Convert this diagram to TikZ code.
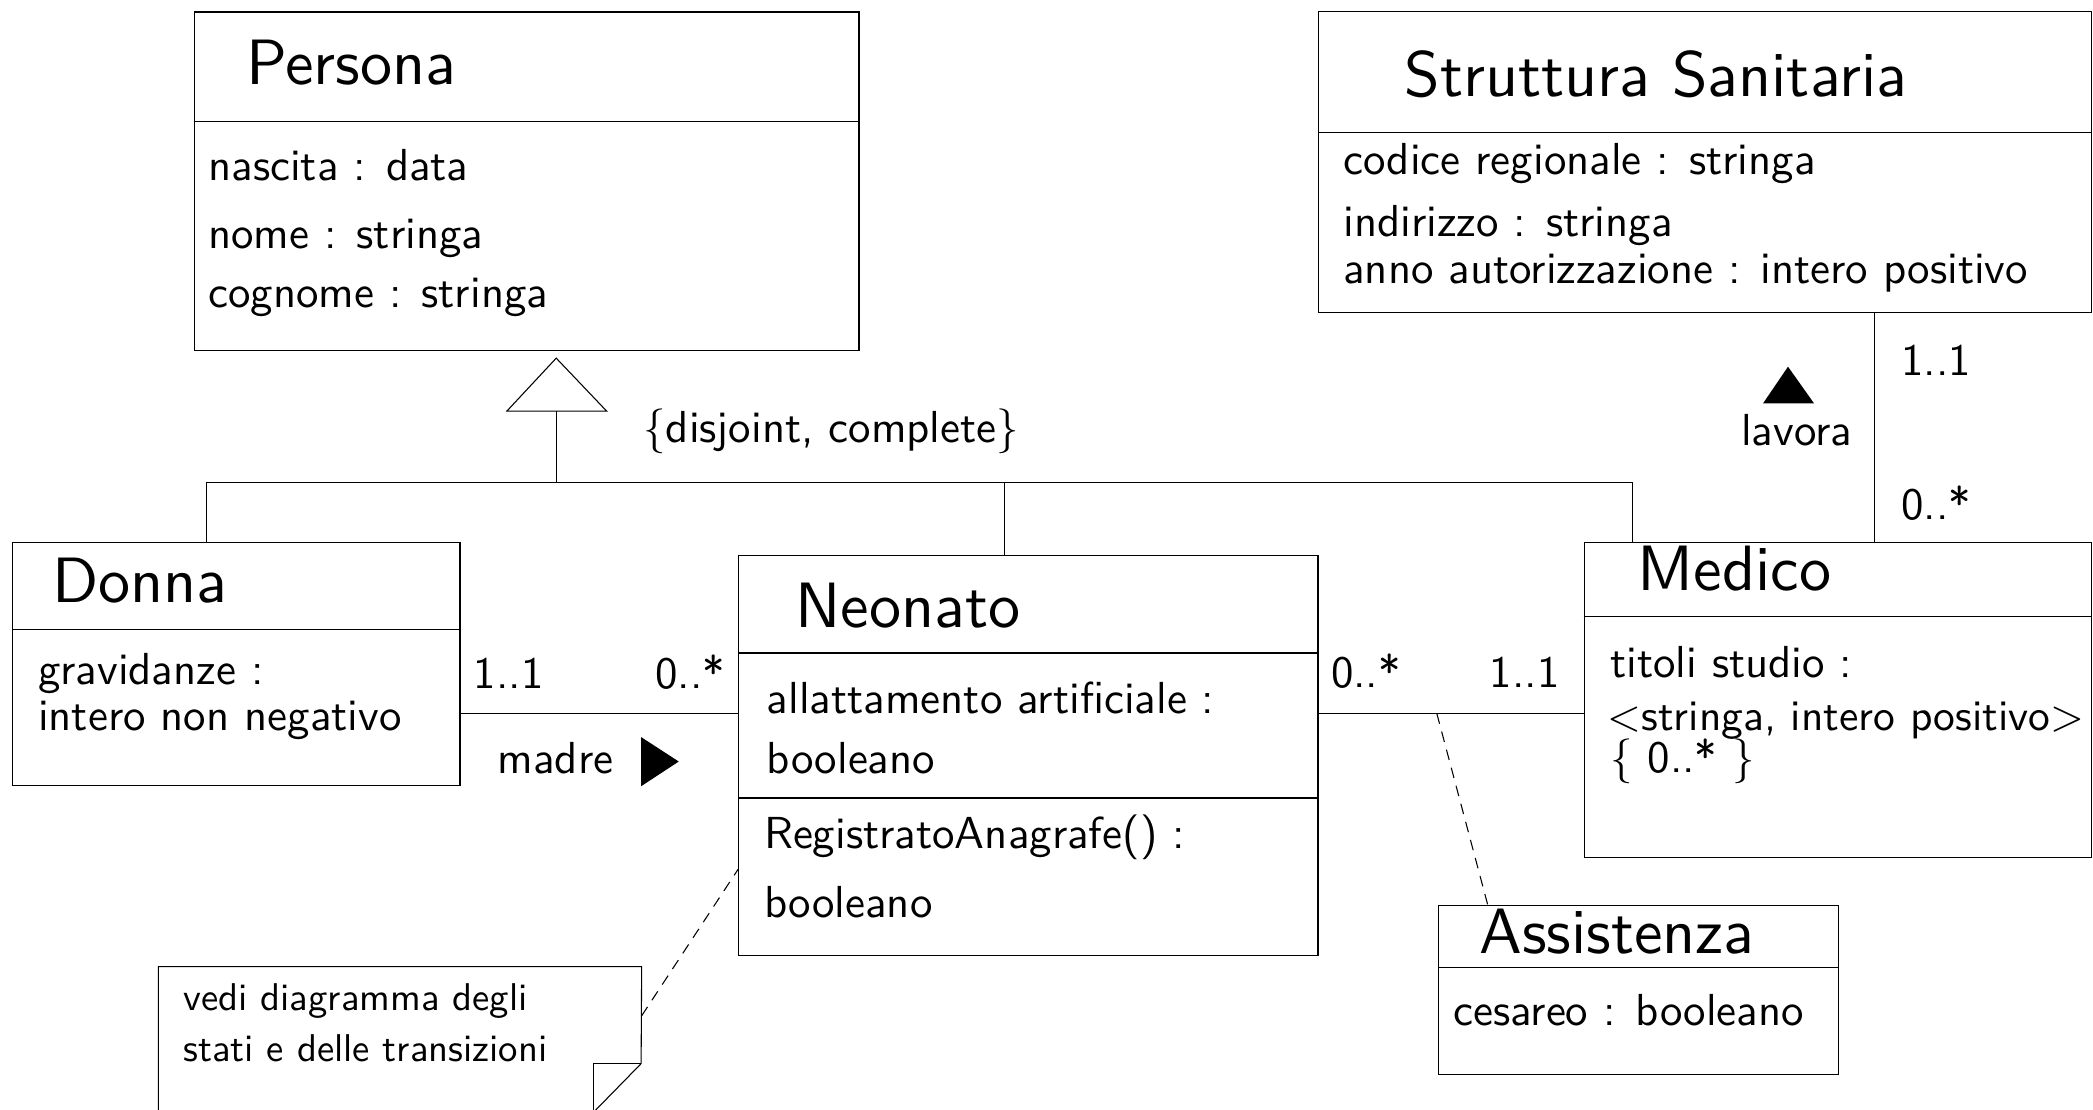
\documentclass[tikz,border=0pt]{standalone}
\usepackage{fontspec}
\usetikzlibrary{fit}
\newfontfamily\lmssten{lmsans10-regular.otf}
\newcommand\fbody{\fontsize{16.8}{20}\selectfont\lmssten}
\newcommand\ftitle{\fontsize{24}{28}\selectfont\lmssten}
\newcommand\fnote{\fontsize{14.5}{17}\selectfont\lmssten}
\tikzset{
  classbox/.style={draw, inner sep=0pt},
  txt/.style={anchor=base west, inner sep=0pt, font=\fbody},
  ttl/.style={anchor=base west, inner sep=0pt, font=\ftitle},
  notetxt/.style={anchor=base west, inner sep=0pt, font=\fnote},
  dashline/.style={dash pattern=on 4pt off 3pt},
}
\begin{document}
\begin{tikzpicture}[x=0.5pt, y=-0.5pt, line width=0.4pt]
\clip (0,0) rectangle (1568,831);
\fill[white] (0,0) rectangle (1568,831);
% class boxes
\node[classbox, fit={(145.5,9) (643.5,262.5)}] (persona) {};
\node[classbox, fit={(987.6,8.8) (1567,234.4)}] (struttura) {};
\node[classbox, fit={(9.4,406.4) (344.6,588.5)}] (donna) {};
\node[classbox, fit={(553.3,416.3) (987.4,715.5)}] (neonato) {};
\node[classbox, fit={(1186.7,406.4) (1567,642.3)}] (medico) {};
\node[classbox, fit={(1078,678.5) (1377,805.2)}] (assist) {};
\node[inner sep=0pt, fit={(119,724.5) (480.3,833)}] (note) {};
% separators
\coordinate (sp) at (0,90.7);
\draw (persona.west |- sp) -- (persona.east |- sp);
\coordinate (ss) at (0,99.2);
\draw (struttura.west |- ss) -- (struttura.east |- ss);
\coordinate (sd) at (0,471.8);
\draw (donna.west |- sd) -- (donna.east |- sd);
\coordinate (sn1) at (0,489.2);
\coordinate (sn2) at (0,597.8);
\draw (neonato.west |- sn1) -- (neonato.east |- sn1);
\draw (neonato.west |- sn2) -- (neonato.east |- sn2);
\coordinate (sm) at (0,461.9);
\draw (medico.west |- sm) -- (medico.east |- sm);
\coordinate (sa) at (0,724.5);
\draw (assist.west |- sa) -- (assist.east |- sa);
% note outline
\draw (note.south west) -- (note.north west) -- (note.north east) -- (480.3,796.8) -- (444.9,833);
\draw (480.3,796.8) -- (444.9,796.8) -- (444.9,833);
% generalization
\draw (416.7,268.3) -- (454.5,308) -- (379.7,308) -- cycle;
\coordinate (gen) at (416.7,308);
\coordinate (bar) at (416.7,361.6);
\coordinate (xd) at (154.8,0);
\coordinate (xn) at (752.6,0);
\coordinate (xm) at (1223,0);
\draw (gen) -- (bar);
\draw (donna.north -| xd) -- (xd |- bar) -- (xm |- bar) -- (medico.north -| xm);
\draw (xn |- bar) -- (neonato.north -| xn);
% lavora
\coordinate (xl) at (1404.5,0);
\draw (struttura.south -| xl) -- (medico.north -| xl);
\fill (1339.5,274.7) -- (1359,302.2) -- (1320.8,302.2) -- cycle;
% associations
\coordinate (ya) at (0,534.5);
\draw (donna.east |- ya) -- (neonato.west |- ya);
\draw (neonato.east |- ya) -- (medico.west |- ya);
\fill (508.5,570.5) -- (480.3,552.2) -- (480.3,589) -- cycle;
% association class
\coordinate (ac) at (1076.4,534.5);
\coordinate (xa) at (1114.6,0);
\draw[dashline] (ac) -- (assist.north -| xa);
% note connector
\coordinate (yn1) at (0,761);
\coordinate (yn2) at (0,651.3);
\draw[dashline] (note.east |- yn1) -- (neonato.west |- yn2);
% texts
\node[ttl] (tpersona) at (184,63.4) {Persona};
\node[txt] (p1) at (155.7,135) {nascita : data};
\node[txt] (p2) at (155.7,186.5) {nome : stringa};
\node[txt] (p3) at (155.7,230) {cognome : stringa};
\node[txt] (dc) at (481.6,331.7) {\{disjoint, complete\}};
\node[ttl] (tstrutt) at (1052,72.2) {Struttura Sanitaria};
\node[txt] (s1) at (1006,131) {codice regionale : stringa};
\node[txt] (s2) at (1006,177) {indirizzo : stringa};
\node[txt] (s3) at (1006,212.6) {anno autorizzazione : intero positivo};
\node[txt] (l11) at (1424,281) {1..1};
\node[txt, anchor=base] (lavora) at (1346,334) {lavora};
\node[txt] (l0s) at (1424,389) {0..*};
\node[ttl] (tdonna) at (38.8,451.5) {Donna};
\node[txt] (d1) at (28.1,513) {gravidanze :};
\node[txt] (d2) at (28.1,547) {intero non negativo};
\node[txt] (a11) at (354.5,515.5) {1..1};
\node[txt] (a0s) at (490.4,515.5) {0..*};
\node[txt] (madre) at (372.5,579.5) {madre};
\node[ttl] (tneonato) at (595.4,469.8) {Neonato};
\node[txt] (n1) at (574,534.5) {allattamento artificiale :};
\node[txt] (n2) at (574,579.5) {booleano};
\node[txt] (n3) at (572,635.7) {RegistratoAnagrafe() :};
\node[txt] (n4) at (572,687.7) {booleano};
\node[txt] (b0s) at (996.8,515) {0..*};
\node[txt] (b11) at (1115.6,514.7) {1..1};
\node[ttl] (tmedico) at (1226.5,442.5) {Medico};
\node[txt] (t1) at (1205.9,507.8) {titoli studio :};
\node[txt, font=\fontsize{16.3}{20}\selectfont\lmssten] (t2) at (1204,547) {<stringa, intero positivo>};
\node[txt] (t3) at (1205.9,578.7) {\{ 0..* \}};
\node[ttl] (tassist) at (1108,714.6) {Assistenza};
\node[txt] (c1) at (1088.4,768) {cesareo : booleano};
\node[notetxt] (nt1) at (137,756.7) {vedi diagramma degli};
\node[notetxt] (nt2) at (137,794.9) {stati e delle transizioni};
\end{tikzpicture}
\end{document}
